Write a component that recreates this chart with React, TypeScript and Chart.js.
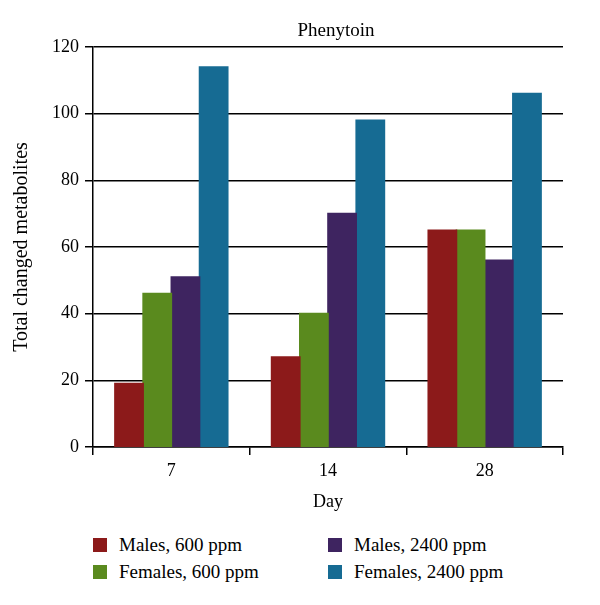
import React, { useEffect, useRef } from "react";
import { Chart, registerables } from "chart.js";

Chart.register(...registerables);

const chartTitle = "Phenytoin";
const xTitle = "Day";
const yTitle = "Total changed metabolites";
const days = ["7", "14", "28"];
const seriesNames = ["Males, 600 ppm", "Females, 600 ppm", "Males, 2400 ppm", "Females, 2400 ppm"];
const males600 = [19, 27, 65];
const females600 = [46, 40, 65];
const males2400 = [51, 70, 56];
const females2400 = [114, 98, 106];
const seriesColors = ["#8C1A1A", "#5A8A1E", "#3E2460", "#166B93"];
const yMin = 0;
const yMax = 120;
const yStep = 20;

const FONT = "'Liberation Serif', 'Times New Roman', serif";

const titlePlugin = {
  id: "customTitle",
  afterDraw(chart: any) {
    const { ctx, chartArea } = chart;
    ctx.save();
    ctx.font = `19px ${FONT}`;
    ctx.fillStyle = "#000";
    ctx.textAlign = "center";
    ctx.textBaseline = "middle";
    ctx.fillText(chartTitle, (chartArea.left + chartArea.right) / 2 + 8, 31);
    ctx.restore();
  },
};

export default function App() {
  const ref = useRef<HTMLCanvasElement>(null);

  useEffect(() => {
    if (!ref.current) return;
    const seriesData = [males600, females600, males2400, females2400];
    const chart = new Chart(ref.current, {
      type: "bar",
      data: {
        labels: days,
        datasets: seriesNames.map((name, i) => ({
          label: name,
          data: seriesData[i],
          backgroundColor: seriesColors[i],
          borderWidth: 0,
          inflateAmount: 0.8,
          barPercentage: 1,
          categoryPercentage: 0.72,
        })),
      },
      options: {
        responsive: false,
        animation: false,
        layout: { padding: { left: 0, right: 37, top: 47, bottom: 0 } },
        plugins: {
          legend: { display: false },
          tooltip: { enabled: false },
          title: { display: false },
        },
        scales: {
          x: {
            grid: {
              offset: true,
              drawOnChartArea: false,
              drawTicks: true,
              tickLength: 8,
              color: "#000",
              lineWidth: 1.5,
            },
            border: { color: "#000", width: 1.5 },
            ticks: {
              color: "#000",
              font: { family: FONT, size: 18 },
              padding: 5,
              maxRotation: 0,
            },
            title: {
              display: true,
              text: xTitle,
              color: "#000",
              font: { family: FONT, size: 18 },
              padding: { top: 6, bottom: 0 },
            },
            afterFit(scale: any) {
              scale.height = 66;
            },
          },
          y: {
            min: yMin,
            max: yMax,
            ticks: {
              stepSize: yStep,
              color: "#000",
              font: { family: FONT, size: 18 },
              padding: 6,
            },
            grid: {
              color: "#000",
              lineWidth: 1.5,
              tickLength: 8,
              drawTicks: true,
            },
            border: { color: "#000", width: 1.5 },
            title: {
              display: true,
              text: yTitle,
              color: "#000",
              font: { family: FONT, size: 20 },
              padding: { top: 10, bottom: 0 },
            },
            afterFit(scale: any) {
              scale.width = 93;
            },
          },
        },
      },
      plugins: [titlePlugin],
    });
    return () => chart.destroy();
  }, []);

  return (
    <div style={{ position: "absolute", left: 0, top: 0, width: 600, height: 605, background: "#fff" }}>
      <canvas ref={ref} width={600} height={513} style={{ display: "block" }} />
      <div
        style={{
          position: "absolute",
          left: 93,
          top: 531,
          display: "grid",
          gridTemplateRows: "27px 27px",
          gridTemplateColumns: "235px 235px",
          gridAutoFlow: "column",
          fontFamily: FONT,
          fontSize: 19,
          color: "#000",
        }}
      >
        {seriesNames.map((name, i) => (
          <div key={name} style={{ display: "flex", alignItems: "center", height: 27 }}>
            <span
              style={{
                display: "inline-block",
                width: 14,
                height: 14,
                background: seriesColors[i],
                marginRight: 12,
              }}
            />
            <span>{name}</span>
          </div>
        ))}
      </div>
    </div>
  );
}
